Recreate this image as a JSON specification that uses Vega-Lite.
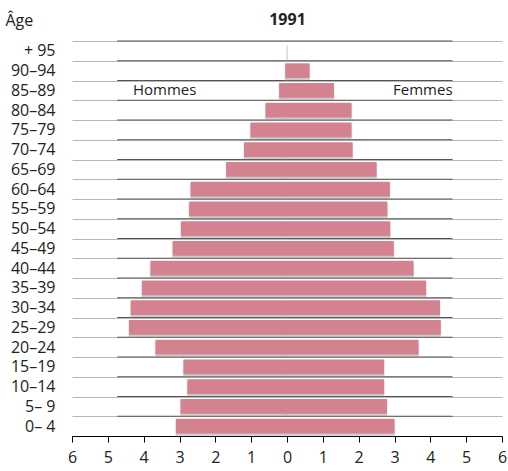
{
  "$schema": "https://vega.github.io/schema/vega-lite/v6.json",
  "width": 430,
  "height": 395,
  "autosize": {"type": "none"},
  "padding": {"left": 72, "top": 41, "right": 6, "bottom": 35},
  "background": "white",
  "config": {
    "font": "Open Sans",
    "view": {"stroke": null}
  },
  "data": {"values": [
    {"age": "+ 95", "sexe": "Hommes", "pct": 0.0}, {"age": "+ 95", "sexe": "Femmes", "pct": 0.0},
    {"age": "90–94", "sexe": "Hommes", "pct": 0.05}, {"age": "90–94", "sexe": "Femmes", "pct": 0.63},
    {"age": "85–89", "sexe": "Hommes", "pct": 0.22}, {"age": "85–89", "sexe": "Femmes", "pct": 1.31},
    {"age": "80–84", "sexe": "Hommes", "pct": 0.6}, {"age": "80–84", "sexe": "Femmes", "pct": 1.8},
    {"age": "75–79", "sexe": "Hommes", "pct": 1.02}, {"age": "75–79", "sexe": "Femmes", "pct": 1.8},
    {"age": "70–74", "sexe": "Hommes", "pct": 1.2}, {"age": "70–74", "sexe": "Femmes", "pct": 1.83},
    {"age": "65–69", "sexe": "Hommes", "pct": 1.7}, {"age": "65–69", "sexe": "Femmes", "pct": 2.5},
    {"age": "60–64", "sexe": "Hommes", "pct": 2.69}, {"age": "60–64", "sexe": "Femmes", "pct": 2.87},
    {"age": "55–59", "sexe": "Hommes", "pct": 2.73}, {"age": "55–59", "sexe": "Femmes", "pct": 2.8},
    {"age": "50–54", "sexe": "Hommes", "pct": 2.96}, {"age": "50–54", "sexe": "Femmes", "pct": 2.88},
    {"age": "45–49", "sexe": "Hommes", "pct": 3.19}, {"age": "45–49", "sexe": "Femmes", "pct": 2.98},
    {"age": "40–44", "sexe": "Hommes", "pct": 3.81}, {"age": "40–44", "sexe": "Femmes", "pct": 3.53},
    {"age": "35–39", "sexe": "Hommes", "pct": 4.05}, {"age": "35–39", "sexe": "Femmes", "pct": 3.88},
    {"age": "30–34", "sexe": "Hommes", "pct": 4.36}, {"age": "30–34", "sexe": "Femmes", "pct": 4.27},
    {"age": "25–29", "sexe": "Hommes", "pct": 4.41}, {"age": "25–29", "sexe": "Femmes", "pct": 4.29},
    {"age": "20–24", "sexe": "Hommes", "pct": 3.67}, {"age": "20–24", "sexe": "Femmes", "pct": 3.67},
    {"age": "15–19", "sexe": "Hommes", "pct": 2.89}, {"age": "15–19", "sexe": "Femmes", "pct": 2.71},
    {"age": "10–14", "sexe": "Hommes", "pct": 2.78}, {"age": "10–14", "sexe": "Femmes", "pct": 2.71},
    {"age": "5– 9", "sexe": "Hommes", "pct": 2.97}, {"age": "5– 9", "sexe": "Femmes", "pct": 2.79},
    {"age": "0– 4", "sexe": "Hommes", "pct": 3.1}, {"age": "0– 4", "sexe": "Femmes", "pct": 3.0}
  ]},
  "transform": [{"calculate": "datum.sexe == 'Hommes' ? -datum.pct : datum.pct", "as": "val"}],
  "encoding": {
    "y": {"field": "age", "type": "nominal",
      "sort": ["+ 95","90–94","85–89","80–84","75–79","70–74","65–69","60–64","55–59","50–54","45–49","40–44","35–39","30–34","25–29","20–24","15–19","10–14","5– 9","0– 4"],
      "scale": {"paddingInner": 0, "paddingOuter": 0},
      "axis": {"title": "Âge", "titleAngle": 0, "titleAlign": "left", "titleBaseline": "alphabetic", "titleX": -67, "titleY": -16, "titleFontSize": 16, "titleFontWeight": "normal", "titleColor": "#222",
        "domain": false, "ticks": false, "labelPadding": 17, "labelFontSize": 16, "labelColor": "#222", "labelOverlap": false,
        "grid": true, "tickBand": "extent", "gridColor": "#b8b8b8", "gridWidth": 1}},
    "x": {"field": "val", "type": "quantitative",
      "scale": {"domain": [-6, 6], "nice": false},
      "axis": {"title": "1991", "titleFontSize": 16, "titleFontWeight": "bold", "titleColor": "#222", "titleX": 215, "titleY": -412, "titleAlign": "center", "titleBaseline": "alphabetic",
        "values": [-6,-5,-4,-3,-2,-1,0,1,2,3,4,5,6], "labelExpr": "abs(datum.value)", "labelOverlap": false, "labelFontSize": 16, "labelColor": "#222", "labelFlush": false,
        "grid": false, "domainColor": "#000", "tickColor": "#000", "tickSize": 6, "labelPadding": 7, "domainWidth": 1.2}}
  },
  "layer": [
    {
      "transform": [{"filter": "datum.sexe == 'Hommes'"}],
      "mark": {"type": "rule", "color": "#555", "strokeWidth": 1},
      "encoding": {
        "y": {"field": "age", "type": "nominal", "bandPosition": 0,
          "sort": ["+ 95","90–94","85–89","80–84","75–79","70–74","65–69","60–64","55–59","50–54","45–49","40–44","35–39","30–34","25–29","20–24","15–19","10–14","5– 9","0– 4"]},
        "x": {"datum": -4.74, "type": "quantitative"},
        "x2": {"datum": 4.62}
      }
    },
    {
      "mark": {"type": "bar", "height": {"band": 0.74}, "color": "#8a8a8a", "opacity": 0.45, "yOffset": 2, "stroke": "#9a9a9a", "strokeWidth": 2, "strokeOpacity": 0.35},
      "encoding": {"x2": {"datum": 0}}
    },
    {
      "mark": {"type": "bar", "height": {"band": 0.74}, "color": "#d58290"},
      "encoding": {"x2": {"datum": 0}}
    },
    {
      "transform": [{"filter": "datum.sexe == 'Hommes'"}],
      "mark": {"type": "rule", "color": "#000", "strokeWidth": 1.2},
      "encoding": {"x": {"datum": 0, "type": "quantitative"}}
    },
    {
      "transform": [{"filter": "datum.sexe == 'Hommes' && datum.age == '85–89'"}],
      "mark": {"type": "text", "align": "left", "baseline": "middle", "fontSize": 15, "color": "#222", "text": "Hommes"},
      "encoding": {"x": {"datum": -4.3, "type": "quantitative"}}
    },
    {
      "transform": [{"filter": "datum.sexe == 'Femmes' && datum.age == '85–89'"}],
      "mark": {"type": "text", "align": "right", "baseline": "middle", "fontSize": 15, "color": "#222", "text": "Femmes"},
      "encoding": {"x": {"datum": 4.62, "type": "quantitative"}}
    }
  ]
}
